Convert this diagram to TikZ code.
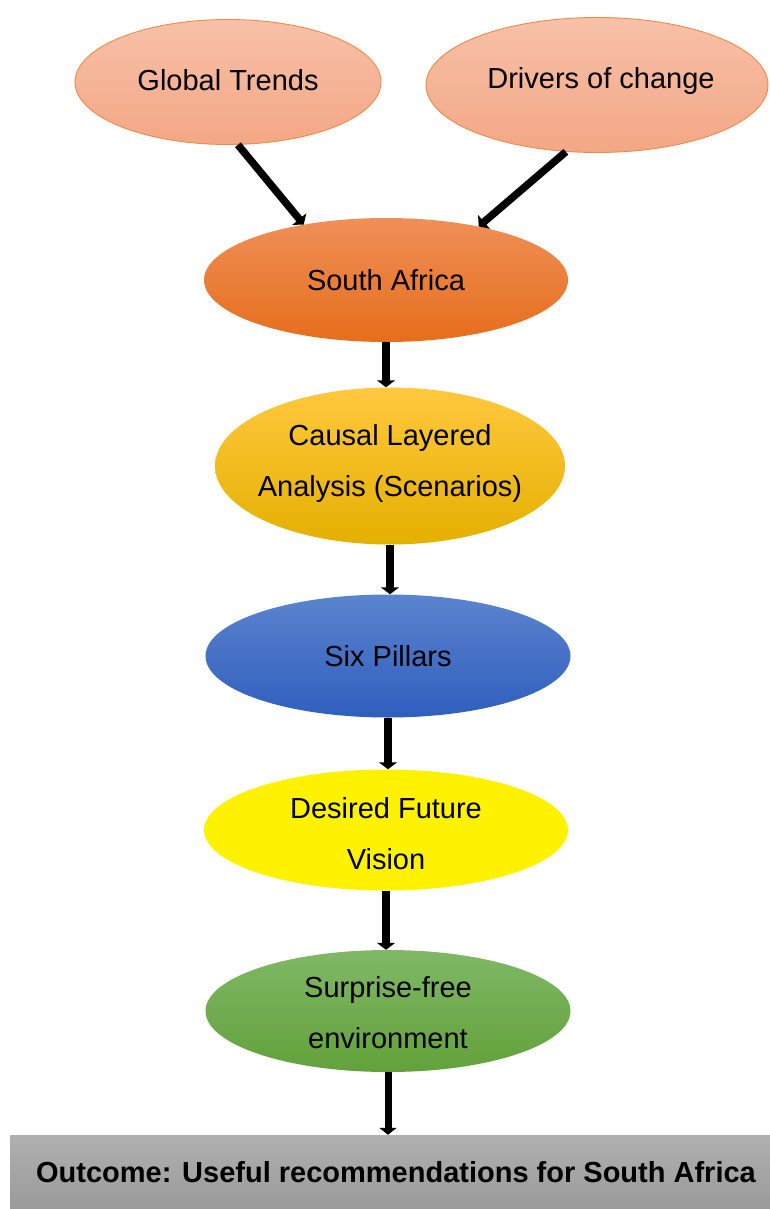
\documentclass[tikz,border=0pt]{standalone}
\usepackage{fontspec}
\setmainfont{Liberation Sans}
\usetikzlibrary{shapes.geometric,arrows.meta}

\definecolor{peachTop}{HTML}{F7C1A8}
\definecolor{peachBot}{HTML}{F3A785}
\definecolor{peachLine}{HTML}{F0894A}
\definecolor{orTop}{HTML}{EF8F57}
\definecolor{orMid}{HTML}{F47B27}
\definecolor{orBot}{HTML}{E66E1C}
\definecolor{goldTop}{HTML}{FFC83E}
\definecolor{goldMid}{HTML}{FFC000}
\definecolor{goldBot}{HTML}{E4B000}
\definecolor{blueTop}{HTML}{5B84CF}
\definecolor{blueMid}{HTML}{3F6FC8}
\definecolor{blueBot}{HTML}{2F5EBD}
\definecolor{greenTop}{HTML}{80B866}
\definecolor{greenMid}{HTML}{6DAD45}
\definecolor{greenBot}{HTML}{62A13A}
\definecolor{greyTop}{HTML}{B0B0B0}
\definecolor{greyBot}{HTML}{9A9A9A}

% text block of no size, raised by #1, so it never changes the ellipse
\newcommand{\blocktext}[2][0pt]{\makebox[0pt][c]{\smash{\raisebox{#1}{%
  \begin{tabular}{@{}c@{}}#2\end{tabular}}}}}

\begin{document}
\begin{tikzpicture}[x=1pt,y=-1pt,
  blob/.style={ellipse, inner sep=0pt, text=black,
    font=\fontsize{29}{51}\selectfont},
  peach/.style={blob, top color=peachTop, bottom color=peachBot,
    draw=peachLine, line width=0.9pt},
  flow/.style={line width=7.5pt, -{Triangle[length=7pt,width=18pt]}},
  thinflow/.style={line width=7pt, -{Triangle[length=7pt,width=17pt]}},
]
\useasboundingbox (0,0) rectangle (770,1209);

% sources
\node[peach, minimum width=306, minimum height=125] (gt) at (228,82)
  {\blocktext[-5pt]{Global Trends}};
\node[peach, minimum width=342, minimum height=135] (dc) at (597,85)
  {\blocktext[0pt]{\hspace*{8pt}Drivers of change}};

% main chain
\node[blob, minimum width=364, minimum height=124,
  top color=orTop, middle color=orMid, bottom color=orBot] (sa) at (386,280)
  {\blocktext[-7pt]{South Africa}};
\node[blob, minimum width=350, minimum height=157,
  top color=goldTop, middle color=goldMid, bottom color=goldBot] (cla) at (390,466)
  {\blocktext[-1pt]{Causal Layered\\Analysis (Scenarios)}};
\node[blob, minimum width=365, minimum height=123,
  top color=blueTop, middle color=blueMid, bottom color=blueBot] (six) at (388,656)
  {\blocktext[-7pt]{Six Pillars}};
\node[blob, minimum width=364, minimum height=121, fill=yellow] (dfv) at (386,830)
  {\blocktext[-10pt]{Desired Future\\Vision}};
\node[blob, minimum width=365, minimum height=122,
  top color=greenTop, middle color=greenMid, bottom color=greenBot] (sf) at (388,1011)
  {\blocktext[-8pt]{Surprise-free\\environment}};

% outcome bar
\node[rectangle, inner sep=0pt, minimum width=760, minimum height=74,
  top color=greyTop, bottom color=greyBot,
  font=\fontsize{29}{34}\selectfont\bfseries] (out) at (390,1172)
  {\hspace*{12pt}Outcome: Useful recommendations for South Africa};

% connectors
\draw[flow] (gt.-81) -- (sa.146);
\draw[flow] (dc.-115) -- (sa.30);
\draw[flow] (sa.south) -- (sa.south |- cla.north);
\draw[flow] (cla.south) -- (cla.south |- six.north);
\draw[flow] (six.south) -- (six.south |- dfv.north);
\draw[flow] (dfv.south) -- (dfv.south |- sf.north);
\draw[thinflow] (sf.south) -- (sf.south |- out.north);
\end{tikzpicture}
\end{document}
